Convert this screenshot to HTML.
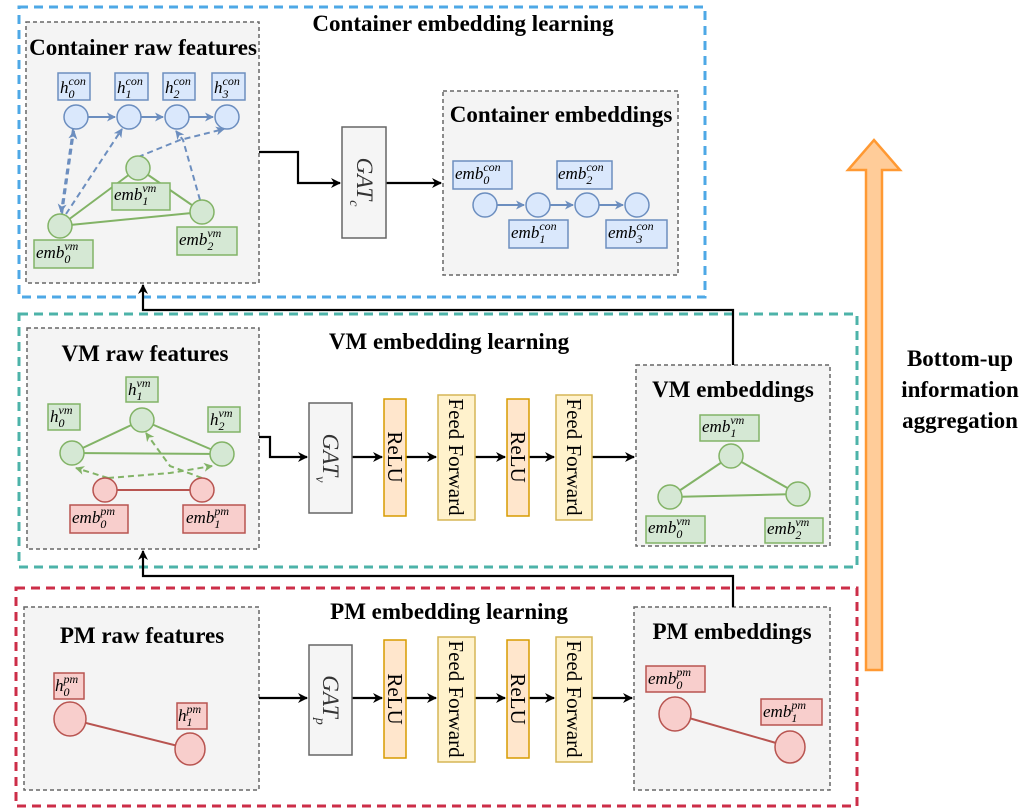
<!DOCTYPE html>
<html><head><meta charset="utf-8"><style>
html,body{margin:0;padding:0;background:#fff;}
svg{display:block;font-family:"Liberation Serif",serif;}
.t{font-weight:bold;font-size:23px;fill:#000;}
.m{font-style:italic;font-size:17px;fill:#000;}
.s{font-size:12px;}
</style></head><body>
<svg width="1036" height="811" viewBox="0 0 1036 811" xmlns="http://www.w3.org/2000/svg">
<defs>
<marker id="ak" markerWidth="10" markerHeight="10" refX="9" refY="5" orient="auto" markerUnits="userSpaceOnUse"><path d="M0,0 L10,5 L0,10 L3,5 z" fill="#000"/></marker>
<marker id="ab" markerWidth="9" markerHeight="9" refX="8" refY="4.5" orient="auto" markerUnits="userSpaceOnUse"><path d="M0,0 L9,4.5 L0,9 L2.5,4.5 z" fill="#6c8ebf"/></marker>
<marker id="ag" markerWidth="9" markerHeight="9" refX="8" refY="4.5" orient="auto" markerUnits="userSpaceOnUse"><path d="M0,0 L9,4.5 L0,9 L2.5,4.5 z" fill="#82b366"/></marker>
</defs>

<rect x="19" y="7" width="686" height="290" fill="none" stroke="#4ea8e6" stroke-width="3" stroke-dasharray="9,6"/>
<rect x="19" y="314" width="838" height="253" fill="none" stroke="#4db3a9" stroke-width="3" stroke-dasharray="9,6"/>
<rect x="16" y="588" width="841" height="218" fill="none" stroke="#cc2e48" stroke-width="3" stroke-dasharray="9,6"/>

<text class="t" x="463" y="31" text-anchor="middle" font-size="24">Container embedding learning</text>
<text class="t" x="449" y="349" text-anchor="middle">VM embedding learning</text>
<text class="t" x="449" y="619" text-anchor="middle">PM embedding learning</text>

<g fill="#f4f4f4" stroke="#666" stroke-width="1.5" stroke-dasharray="4,3">
<rect x="26" y="22" width="233" height="261"/>
<rect x="443" y="91" width="235" height="184"/>
<rect x="27" y="328" width="232" height="221"/>
<rect x="636" y="365" width="194" height="181"/>
<rect x="24" y="607" width="235" height="183"/>
<rect x="634" y="607" width="196" height="183"/>
</g>
<text class="t" x="143" y="55" text-anchor="middle">Container raw features</text>
<text class="t" x="561" y="122" text-anchor="middle">Container embeddings</text>
<text class="t" x="145" y="361" text-anchor="middle">VM raw features</text>
<text class="t" x="733" y="397" text-anchor="middle">VM embeddings</text>
<text class="t" x="142" y="643" text-anchor="middle">PM raw features</text>
<text class="t" x="732" y="639" text-anchor="middle">PM embeddings</text>

<g fill="none" stroke="#000" stroke-width="2.2">
<path d="M259,152 H298 V183 H340" marker-end="url(#ak)"/>
<path d="M386,183 H441" marker-end="url(#ak)"/>
<path d="M733,365 V310 H143 V285" marker-end="url(#ak)"/>
<path d="M733,607 V576 H143 V551" marker-end="url(#ak)"/>
<path d="M259,437 H270 V457 H307" marker-end="url(#ak)"/>
<path d="M352,457 H382" marker-end="url(#ak)"/>
<path d="M406,457 H436" marker-end="url(#ak)"/>
<path d="M475,457 H505" marker-end="url(#ak)"/>
<path d="M529,457 H554" marker-end="url(#ak)"/>
<path d="M592,457 H634" marker-end="url(#ak)"/>
<path d="M259,698 H307" marker-end="url(#ak)"/>
<path d="M352,698 H382" marker-end="url(#ak)"/>
<path d="M406,698 H436" marker-end="url(#ak)"/>
<path d="M475,698 H505" marker-end="url(#ak)"/>
<path d="M529,698 H554" marker-end="url(#ak)"/>
<path d="M592,698 H632" marker-end="url(#ak)"/>
</g>

<g fill="#f5f5f5" stroke="#666" stroke-width="1.5">
<rect x="342" y="127" width="44" height="111"/>
<rect x="309" y="403" width="43" height="110"/>
<rect x="309" y="645" width="43" height="110"/>
</g>
<g font-style="italic" font-size="23" fill="#333">
<text transform="translate(357,182) rotate(90)" text-anchor="middle">GAT<tspan font-size="14" dy="7">c</tspan></text>
<text transform="translate(323,458) rotate(90)" text-anchor="middle">GAT<tspan font-size="14" dy="7">v</tspan></text>
<text transform="translate(323,700) rotate(90)" text-anchor="middle">GAT<tspan font-size="14" dy="7">p</tspan></text>
</g>
<g stroke-width="1.5">
<rect x="384" y="399" width="22" height="117" fill="#ffe6cc" stroke="#d79b00"/>
<rect x="507" y="399" width="22" height="117" fill="#ffe6cc" stroke="#d79b00"/>
<rect x="438" y="395" width="37" height="125" fill="#fff2cc" stroke="#d6b656"/>
<rect x="556" y="395" width="36" height="125" fill="#fff2cc" stroke="#d6b656"/>
<rect x="384" y="640" width="22" height="118" fill="#ffe6cc" stroke="#d79b00"/>
<rect x="507" y="640" width="22" height="118" fill="#ffe6cc" stroke="#d79b00"/>
<rect x="438" y="637" width="37" height="125" fill="#fff2cc" stroke="#d6b656"/>
<rect x="556" y="637" width="36" height="125" fill="#fff2cc" stroke="#d6b656"/>
</g>
<g font-size="21">
<text transform="translate(388,457) rotate(90)" text-anchor="middle">ReLU</text>
<text transform="translate(511,457) rotate(90)" text-anchor="middle">ReLU</text>
<text transform="translate(449,457) rotate(90)" text-anchor="middle">Feed Forward</text>
<text transform="translate(567,457) rotate(90)" text-anchor="middle">Feed Forward</text>
<text transform="translate(388,699) rotate(90)" text-anchor="middle">ReLU</text>
<text transform="translate(511,699) rotate(90)" text-anchor="middle">ReLU</text>
<text transform="translate(449,699) rotate(90)" text-anchor="middle">Feed Forward</text>
<text transform="translate(567,699) rotate(90)" text-anchor="middle">Feed Forward</text>
</g>

<!-- Container raw graph -->
<g stroke="#6c8ebf" stroke-width="2" fill="none">
<path d="M88,117 H115" marker-end="url(#ab)"/>
<path d="M141,117 H163" marker-end="url(#ab)"/>
<path d="M189,117 H213" marker-end="url(#ab)"/>
<g stroke-dasharray="6,4">
<path d="M62,214 L74,131" marker-end="url(#ab)"/>
<path d="M73,129 L61,212" marker-end="url(#ab)"/>
<path d="M66,214 L122,129" marker-end="url(#ab)"/>
<path d="M138,157 L180,140 L224,129" marker-end="url(#ab)"/>
<path d="M200,200 L183,140 L176,131" marker-end="url(#ab)"/>
</g>
</g>
<g stroke="#82b366" stroke-width="2">
<line x1="60" y1="226" x2="138" y2="168"/>
<line x1="138" y1="168" x2="202" y2="212"/>
<line x1="60" y1="226" x2="202" y2="212"/>
</g>
<g fill="#dae8fc" stroke="#6c8ebf" stroke-width="1.5">
<circle cx="76" cy="117" r="12"/><circle cx="129" cy="117" r="12"/><circle cx="177" cy="117" r="12"/><circle cx="227" cy="117" r="12"/>
<rect x="58" y="73" width="32" height="27"/><rect x="115" y="73" width="33" height="27"/><rect x="163" y="73" width="32" height="27"/><rect x="212" y="73" width="33" height="27"/>
</g>
<g fill="#d5e8d4" stroke="#82b366" stroke-width="1.5">
<circle cx="60" cy="226" r="12"/><circle cx="138" cy="168" r="12"/><circle cx="202" cy="212" r="12"/>
<rect x="112" y="183" width="58" height="27"/><rect x="34" y="240" width="59" height="28"/><rect x="177" y="227" width="60" height="28"/>
</g>
<g class="m">
<text x="60" y="93">h<tspan class="s" dy="5">0</tspan><tspan class="s" dx="-6" dy="-13">con</tspan></text>
<text x="117" y="93">h<tspan class="s" dy="5">1</tspan><tspan class="s" dx="-6" dy="-13">con</tspan></text>
<text x="165" y="93">h<tspan class="s" dy="5">2</tspan><tspan class="s" dx="-6" dy="-13">con</tspan></text>
<text x="214" y="93">h<tspan class="s" dy="5">3</tspan><tspan class="s" dx="-6" dy="-13">con</tspan></text>
<text x="114" y="200">emb<tspan class="s" dy="5">1</tspan><tspan class="s" dx="-6" dy="-13">vm</tspan></text>
<text x="36" y="258">emb<tspan class="s" dy="5">0</tspan><tspan class="s" dx="-6" dy="-13">vm</tspan></text>
<text x="179" y="245">emb<tspan class="s" dy="5">2</tspan><tspan class="s" dx="-6" dy="-13">vm</tspan></text>
</g>

<!-- Container embeddings -->
<g stroke="#6c8ebf" stroke-width="2" fill="none">
<path d="M497,205 H524" marker-end="url(#ab)"/>
<path d="M550,205 H573" marker-end="url(#ab)"/>
<path d="M599,205 H623" marker-end="url(#ab)"/>
</g>
<g fill="#dae8fc" stroke="#6c8ebf" stroke-width="1.5">
<circle cx="485" cy="205" r="12"/><circle cx="538" cy="205" r="12"/><circle cx="587" cy="205" r="12"/><circle cx="637" cy="205" r="12"/>
<rect x="453" y="161" width="59" height="28"/><rect x="509" y="220" width="59" height="28"/><rect x="557" y="161" width="55" height="28"/><rect x="606" y="220" width="61" height="28"/>
</g>
<g class="m">
<text x="455" y="179">emb<tspan class="s" dy="5">0</tspan><tspan class="s" dx="-6" dy="-13">con</tspan></text>
<text x="511" y="238">emb<tspan class="s" dy="5">1</tspan><tspan class="s" dx="-6" dy="-13">con</tspan></text>
<text x="558" y="179">emb<tspan class="s" dy="5">2</tspan><tspan class="s" dx="-6" dy="-13">con</tspan></text>
<text x="608" y="238">emb<tspan class="s" dy="5">3</tspan><tspan class="s" dx="-6" dy="-13">con</tspan></text>
</g>

<!-- VM raw -->
<g stroke="#82b366" stroke-width="2" fill="none">
<line x1="72" y1="453" x2="142" y2="420"/>
<line x1="142" y1="420" x2="222" y2="454"/>
<line x1="72" y1="453" x2="222" y2="454"/>
<g stroke-dasharray="6,4">
<path d="M108,478 L76,468" marker-end="url(#ag)"/>
<path d="M108,478 L170,473 L212,466" marker-end="url(#ag)"/>
<path d="M202,478 L170,466 L146,433" marker-end="url(#ag)"/>
</g>
</g>
<line x1="105" y1="490" x2="202" y2="490" stroke="#b85450" stroke-width="2"/>
<g fill="#d5e8d4" stroke="#82b366" stroke-width="1.5">
<circle cx="142" cy="420" r="12"/><circle cx="72" cy="453" r="12"/><circle cx="222" cy="454" r="12"/>
<rect x="126" y="377" width="32" height="25"/><rect x="48" y="404" width="32" height="26"/><rect x="208" y="407" width="32" height="25"/>
</g>
<g fill="#f8cecc" stroke="#b85450" stroke-width="1.5">
<circle cx="105" cy="490" r="12"/><circle cx="202" cy="490" r="12"/>
<rect x="70" y="505" width="58" height="28"/><rect x="183" y="505" width="62" height="28"/>
</g>
<g class="m">
<text x="128" y="395">h<tspan class="s" dy="5">1</tspan><tspan class="s" dx="-6" dy="-13">vm</tspan></text>
<text x="50" y="422">h<tspan class="s" dy="5">0</tspan><tspan class="s" dx="-6" dy="-13">vm</tspan></text>
<text x="210" y="425">h<tspan class="s" dy="5">2</tspan><tspan class="s" dx="-6" dy="-13">vm</tspan></text>
<text x="72" y="523">emb<tspan class="s" dy="5">0</tspan><tspan class="s" dx="-6" dy="-13">pm</tspan></text>
<text x="186" y="523">emb<tspan class="s" dy="5">1</tspan><tspan class="s" dx="-6" dy="-13">pm</tspan></text>
</g>

<!-- VM embeddings -->
<g stroke="#82b366" stroke-width="2">
<line x1="670" y1="497" x2="731" y2="456"/>
<line x1="731" y1="456" x2="798" y2="494"/>
<line x1="670" y1="497" x2="798" y2="494"/>
</g>
<g fill="#d5e8d4" stroke="#82b366" stroke-width="1.5">
<circle cx="731" cy="456" r="12"/><circle cx="670" cy="497" r="12"/><circle cx="798" cy="494" r="12"/>
<rect x="700" y="415" width="59" height="26"/><rect x="646" y="516" width="59" height="27"/><rect x="765" y="518" width="58" height="25"/>
</g>
<g class="m">
<text x="702" y="432">emb<tspan class="s" dy="5">1</tspan><tspan class="s" dx="-6" dy="-13">vm</tspan></text>
<text x="648" y="533">emb<tspan class="s" dy="5">0</tspan><tspan class="s" dx="-6" dy="-13">vm</tspan></text>
<text x="767" y="534">emb<tspan class="s" dy="5">2</tspan><tspan class="s" dx="-6" dy="-13">vm</tspan></text>
</g>

<!-- PM -->
<line x1="70" y1="719" x2="190" y2="749" stroke="#b85450" stroke-width="2"/>
<line x1="675" y1="714" x2="790" y2="747" stroke="#b85450" stroke-width="2"/>
<g fill="#f8cecc" stroke="#b85450" stroke-width="1.5">
<ellipse cx="70" cy="719" rx="16" ry="17"/><ellipse cx="190" cy="749" rx="15" ry="16"/>
<rect x="54" y="673" width="30" height="26"/><rect x="177" y="703" width="30" height="26"/>
<ellipse cx="675" cy="714" rx="16" ry="17"/><ellipse cx="790" cy="747" rx="15" ry="16"/>
<rect x="646" y="666" width="59" height="26"/><rect x="761" y="699" width="61" height="26"/>
</g>
<g class="m">
<text x="55" y="691">h<tspan class="s" dy="5">0</tspan><tspan class="s" dx="-6" dy="-13">pm</tspan></text>
<text x="178" y="721">h<tspan class="s" dy="5">1</tspan><tspan class="s" dx="-6" dy="-13">pm</tspan></text>
<text x="648" y="684">emb<tspan class="s" dy="5">0</tspan><tspan class="s" dx="-6" dy="-13">pm</tspan></text>
<text x="763" y="717">emb<tspan class="s" dy="5">1</tspan><tspan class="s" dx="-6" dy="-13">pm</tspan></text>
</g>

<path d="M866,670 V170 H848 L874,140 L900,170 H882 V670 Z" fill="#ffcc99" stroke="#ff9933" stroke-width="2.5"/>
<g class="t" font-size="27" text-anchor="middle">
<text x="960" y="366">Bottom-up</text>
<text x="960" y="397">information</text>
<text x="960" y="428">aggregation</text>
</g>
</svg>
</body></html>
